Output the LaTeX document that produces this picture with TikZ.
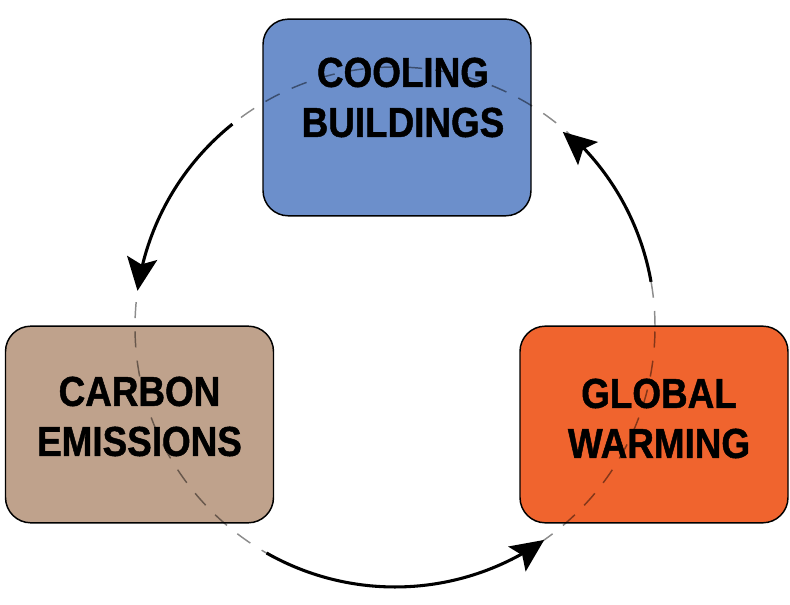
\documentclass[tikz,border=0pt]{standalone}
\usepackage{fontspec}
\setmainfont{Liberation Sans}[FakeStretch=0.88, BoldFeatures={FakeBold=1.1}]
\usetikzlibrary{calc}
\definecolor{coolblue}{HTML}{6C8FCB}
\definecolor{carbonbrown}{HTML}{BFA28C}
\definecolor{warmorange}{HTML}{F0642E}
\tikzset{
  boxstyle/.style={draw=black, line width=1.1pt, rounded corners=19pt,
    minimum width=201pt, minimum height=147.5pt, inner sep=0pt},
  labelstyle/.style={align=center, inner sep=0pt,
    font=\fontsize{31.4}{37.5}\selectfont\bfseries},
  ringstyle/.style={black, opacity=0.45, line width=1.1pt, dash pattern=on 12pt off 10pt},
  cycleline/.style={line width=2.3pt},
  headstyle/.style={fill=black}
}
% #1 = tip coordinate, #2 = polar angle of the tip on the ring (motion counter-clockwise)
\newcommand\ringhead[2]{%
  \fill[headstyle] (#1)
    -- ($(#1)+(#2-90:25pt)+(#2:11.5pt)$)
    -- ($(#1)+(#2-90:20pt)$)
    -- ($(#1)+(#2-90:25pt)+(#2+180:11.5pt)$) -- cycle;}
\begin{document}
\begin{tikzpicture}[x=0.75pt,y=0.75pt]
\useasboundingbox (0,0) rectangle (790,605);
% boxes
\node[boxstyle, fill=coolblue] (cool) at (397,487.5) {};
\node[boxstyle, fill=carbonbrown] (carbon) at (139.5,180.5) {};
\node[boxstyle, fill=warmorange] (warm) at (654,180.5) {};
% ring
\coordinate (C) at (395,278);
\draw[ringstyle] (C) circle[radius=195pt];
% labels
\node[labelstyle] (coolt) at (403,507.5) {COOLING\\BUILDINGS};
\node[labelstyle] (carbont) at (139.5,188.5) {CARBON\\EMISSIONS};
\node[labelstyle] (warmt) at (659,186.5) {GLOBAL\\WARMING};
% arrows along the ring
\coordinate (a1) at ($(C)+(128.7:195pt)$);
\coordinate (t1) at ($(C)+(172:195pt)$);
\coordinate (a2) at ($(C)+(240.4:195pt)$);
\coordinate (t2) at ($(C)+(305:195pt)$);
\coordinate (a3) at ($(C)+(10:195pt)$);
\coordinate (t3) at ($(C)+(49.3:193pt)$);
\draw[cycleline] (a1) arc[start angle=128.7, end angle=166.5, radius=195pt];
\ringhead{t1}{172}
\draw[cycleline] (a2) arc[start angle=240.4, end angle=299.5, radius=195pt];
\ringhead{t2}{305}
\draw[cycleline] (a3) arc[start angle=10, end angle=44, radius=195pt];
\ringhead{t3}{49.3}
\end{tikzpicture}
\end{document}
